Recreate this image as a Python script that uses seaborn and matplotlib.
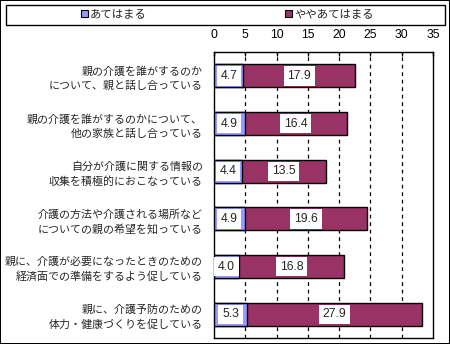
import matplotlib
matplotlib.use("Agg")
import matplotlib.pyplot as plt
from matplotlib.patches import Patch, Rectangle
import seaborn as sns
import pandas as pd
import numpy as np

# Survey items (top to bottom) and the share of respondents for each answer (%)
items = [
    "親の介護を誰がするのか\nについて、親と話し合っている",
    "親の介護を誰がするのかについて、\n他の家族と話し合っている",
    "自分が介護に関する情報の\n収集を積極的におこなっている",
    "介護の方法や介護される場所など\nについての親の希望を知っている",
    "親に、介護が必要になったときのための\n経済面での準備をするよう促している",
    "親に、介護予防のための\n体力・健康づくりを促している",
]
applies = [4.7, 4.9, 4.4, 4.9, 4.0, 5.3]
somewhat = [17.9, 16.4, 13.5, 19.6, 16.8, 27.9]
series_names = ["あてはまる", "ややあてはまる"]
x_ticks = [0, 5, 10, 15, 20, 25, 30, 35]

colors = ["#9999FF", "#993366"]

sns.set_style("white")
plt.rcParams["font.family"] = ["Noto Sans CJK JP", "DejaVu Sans"]

df = pd.DataFrame({"item": items, "applies": applies, "somewhat": somewhat})
df["total"] = df["applies"] + df["somewhat"]

fig = plt.figure(figsize=(4.5, 3.44), dpi=100, linewidth=1.2, edgecolor="black")
ax = fig.add_axes([214 / 450, 6 / 344, 219 / 450, 286 / 344])

# stacked bars: full total in the second colour, first answer laid over from zero
sns.barplot(data=df, x="total", y="item", orient="h", color=colors[1],
            saturation=1, width=0.48, edgecolor="black", linewidth=1,
            ax=ax, zorder=3)
sns.barplot(data=df, x="applies", y="item", orient="h", color=colors[0],
            saturation=1, width=0.48, edgecolor="black", linewidth=1,
            ax=ax, zorder=4)

# value labels in white boxes at the centre of each segment
for i, (a, b) in enumerate(zip(applies, somewhat)):
    for cx, v in ((a / 2, a), (a + b / 2, b)):
        ax.text(cx, i, f"{v:.1f}", ha="center", va="center", fontsize=8.8,
                family=["Liberation Sans"], zorder=6,
                bbox=dict(boxstyle="square,pad=0.3", fc="white", ec="none"))

ax.set_xlim(0, 35)
ax.set_xticks(x_ticks)
ax.set_ylim(len(items) - 0.5, -0.5)
ax.set_xlabel("")
ax.set_ylabel("")

ax.xaxis.tick_top()
ax.tick_params(axis="x", direction="in", length=3, width=1, pad=8,
               labelsize=8.8, colors="black")
for lbl in ax.get_xticklabels():
    lbl.set_family(["Liberation Sans"])
ax.tick_params(axis="y", which="major", length=0, pad=8, labelsize=7.9)
ax.set_yticks(np.arange(len(items) + 1) - 0.5, minor=True)
ax.tick_params(axis="y", which="minor", direction="in", length=3, width=1)
for lbl in ax.get_yticklabels():
    lbl.set_linespacing(1.45)

for x in x_ticks[1:-1]:
    ax.axvline(x, color="black", linestyle=(0, (3, 3)), linewidth=0.9, zorder=1)

for s in ax.spines.values():
    s.set_visible(True)
    s.set_color("black")
    s.set_linewidth(1)

# legend strip across the top of the figure
fig.patches.append(Rectangle((6 / 450, 1 - 24.5 / 344), 439 / 450, 20 / 344,
                             transform=fig.transFigure, fill=False,
                             edgecolor="black", linewidth=1))
handles = [Patch(facecolor=c, edgecolor="black", linewidth=0.8) for c in colors]
fig.legend(handles, series_names, loc="center", ncol=2,
           bbox_to_anchor=(0.505, 1 - 14.5 / 344), frameon=False,
           fontsize=8.2, handlelength=0.6, handleheight=0.6,
           handletextpad=0.15, columnspacing=12.2, borderpad=0)

fig.savefig("out.png", dpi=100)
